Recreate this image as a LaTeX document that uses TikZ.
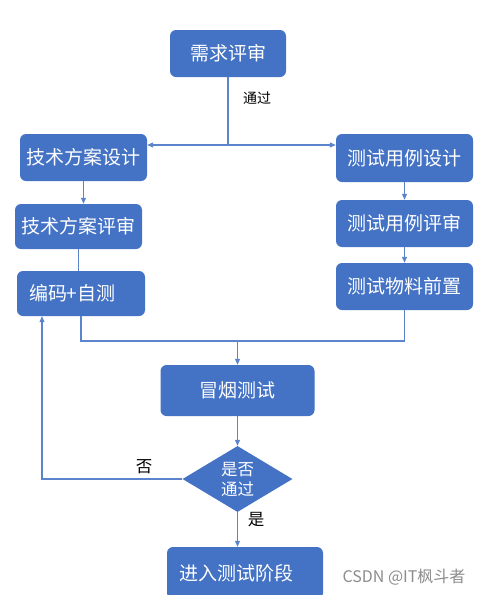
\documentclass[tikz,border=0pt]{standalone}
\usepackage{fontspec}
\setmainfont{Noto Sans CJK SC}
\usetikzlibrary{shapes.geometric,arrows.meta}
\definecolor{boxblue}{HTML}{4472C4}
\definecolor{lineblue}{HTML}{5B84CC}

\begin{document}
\begin{tikzpicture}[x=1pt,y=-1pt,
	box/.style={fill=boxblue, rounded corners=6pt, text=white, inner sep=0pt, font=\fontsize{19}{21}\selectfont},
	leftbox/.style={box, inner xsep=12pt, align=left},
	decision/.style={diamond, fill=boxblue, text=white, inner sep=0pt, aspect=1.67, align=center, font=\fontsize{16.5}{20}\selectfont},
	lbl/.style={font=\fontsize{16.5}{18}\selectfont},
	conn/.style={draw=lineblue, line width=1.1pt},
	arr/.style={conn, -{Triangle[length=6pt,width=5pt]}}]
			\useasboundingbox (0,0) rectangle (483,595);
			
			\node[box, minimum width=116pt, minimum height=47pt] (req) at (228, 53.5) {需求评审};
			\node[box, minimum width=127pt, minimum height=47pt] (tdesign) at (83.5, 157.5) {技术方案设计};
			\node[box, minimum width=127pt, minimum height=45pt] (treview) at (78.5, 226.5) {技术方案评审};
			\node[leftbox, text width=104pt, minimum height=45pt] (code) at (81, 293.5) {编码+自测};
			\node[box, minimum width=137pt, minimum height=48pt] (cdesign) at (404.5, 158) {测试用例设计};
			\node[box, minimum width=137pt, minimum height=47pt] (creview) at (404.5, 223.5) {测试用例评审};
			\node[box, minimum width=137pt, minimum height=47pt] (prep) at (404.5, 286.5) {测试物料前置};
			\node[box, minimum width=154pt, minimum height=51pt] (smoke) at (237.5, 390.5) {冒烟测试};
			\node[decision, minimum width=110pt, minimum height=66pt] (pass) at (237.5, 479) {是否\\通过};
			\node[leftbox, text width=132pt, minimum height=52pt] (enter) at (245, 573) {进入测试阶段};
			
			\node[font=\fontsize{14}{16}\selectfont] (ok) at (257, 98) {通过};
			\node[lbl] (no) at (144, 467) {否};
			\node[lbl] (yes) at (256, 520) {是};
			\node[font=\fontsize{16}{18}\selectfont, text=gray!90] (mark) at (404, 577) {CSDN @IT枫斗者};
			
			\coordinate (split) at (228, 145);
			\coordinate (merge) at (237.5, 341);
			
			\draw[conn] (req) -- (split);
			\draw[arr] (split) -- (split -| tdesign.east);
			\draw[arr] (split) -- (split -| cdesign.west);
			\draw[arr] (tdesign.south) -- (tdesign.south |- treview.north);
			\draw[conn] (treview.south) -- (treview.south |- code.north);
			\draw[arr] (cdesign.south) -- (creview.north);
			\draw[arr] (creview.south) -- (prep.north);
			\draw[conn] (code.south) |- (merge) -| (prep.south);
			\draw[arr] (merge) -- (smoke.north);
			\draw[arr] (smoke.south) -- (pass.north);
			\draw[arr] (pass.west) -| ([xshift=-39pt]code.south);
			\draw[arr] (pass.south) -- (pass.south |- enter.north);
			\end{tikzpicture}
\end{document}
